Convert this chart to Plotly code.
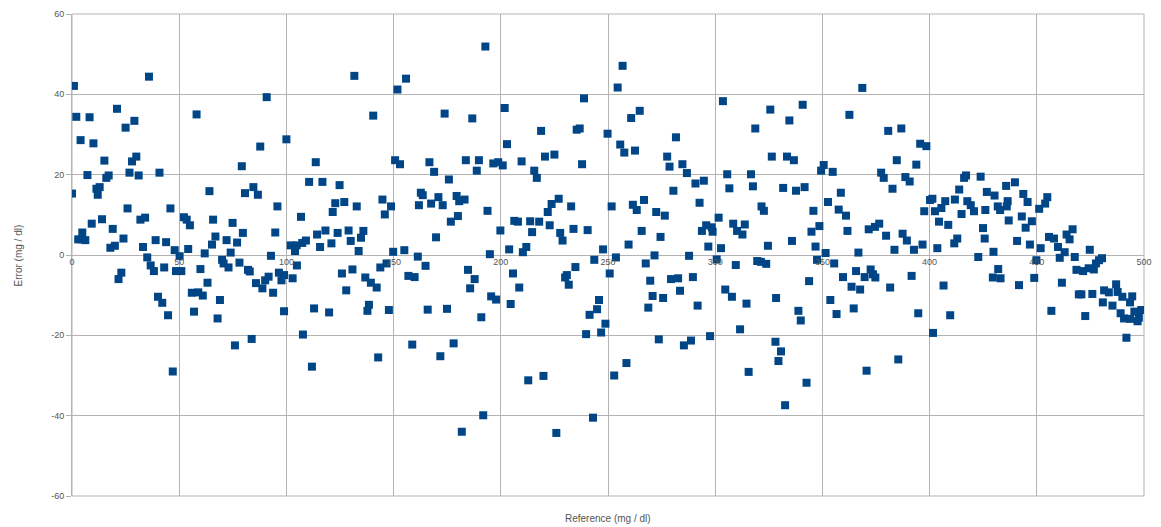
import plotly.graph_objects as go

# Reference values (mg/dl) and errors (mg/dl), grouped by x-band
ref_a = [0.9,35.9,2.0,8.2,21.0,29.1,25.0,4.0,10.0,15.1,30.0,28.0,7.2,17.1,16.0,26.8,31.1,40.8,0.0,11.4,12.9,12.0,25.9,45.9,64.1,58.1,9.2,14.0,19.0,31.9,34.1,52.2,53.5,55.0,65.8,74.9,4.8,2.9,4.5,6.2,24.0,17.9,20.0,33.1,39.0,43.9,47.9,50.2,54.2,61.9,65.3,66.9,72.1,77.0,74.0,35.1,36.7,38.2,43.0,48.5,51.0,59.9,70.0,70.7,73.0,23.0,21.7,63.2,55.9,58.9,61.0,40.1,42.1,69.0,44.8,56.9,67.9,76.0,47.0]
err_a = [42.1,44.4,34.4,34.3,36.4,33.4,31.7,28.6,27.8,23.5,24.5,23.3,19.9,19.8,19.2,20.5,19.8,20.5,15.3,16.5,16.9,15.0,11.6,11.6,15.9,35.0,7.8,8.9,6.5,8.8,9.3,9.4,8.8,7.4,8.8,8.0,5.6,3.9,3.9,3.7,4.1,1.8,2.3,2.0,3.7,3.2,1.2,-0.3,1.5,0.4,2.6,4.6,3.7,3.1,0.6,-0.6,-2.6,-4.0,-3.1,-4.0,-4.0,-3.5,-1.2,-2.1,-3.1,-4.4,-6.0,-6.9,-9.4,-9.3,-10.1,-10.4,-11.9,-11.2,-15.0,-14.1,-15.8,-22.5,-29.0]

ref_b = [90.8,131.7,151.8,155.8,140.5,100.0,87.8,79.2,113.7,150.7,153.0,110.6,116.8,124.8,84.6,80.7,86.7,95.8,122.8,127.0,132.8,121.6,144.8,148.8,145.9,106.8,79.7,94.8,114.3,118.2,123.9,129.0,135.9,134.8,130.0,121.0,115.7,109.1,107.4,102.0,104.8,104.0,133.7,149.8,155.0,92.8,78.1,82.1,82.9,104.9,96.5,98.9,97.7,102.9,91.7,90.1,85.8,88.8,93.8,125.9,130.8,136.8,139.4,142.1,143.8,146.7,156.9,159.8,127.9,98.9,112.9,119.9,138.5,137.8,147.8,83.8,107.7,158.7,111.9,142.8]
err_b = [39.3,44.6,41.2,43.9,34.7,28.8,27.0,22.1,23.1,23.6,22.6,18.2,18.2,17.4,16.9,15.4,15.0,12.1,12.9,13.2,12.1,10.7,13.8,12.1,10.1,9.5,5.5,5.6,5.1,6.1,5.5,6.1,6.0,4.3,3.5,2.9,2.0,3.6,3.0,2.4,2.4,1.0,1.0,0.8,1.2,-0.2,-1.9,-3.7,-4.1,-2.6,-4.4,-5.0,-6.3,-5.8,-5.4,-6.3,-7.0,-8.3,-9.4,-4.6,-3.6,-5.6,-6.9,-8.1,-3.1,-2.1,-5.2,-5.5,-8.8,-14.0,-13.3,-14.3,-12.4,-13.9,-13.7,-20.9,-19.8,-22.3,-27.8,-25.5]

ref_c = [192.8,238.8,201.8,173.8,186.7,218.8,235.4,236.8,202.9,166.7,168.9,183.7,189.8,188.8,196.5,198.8,200.9,209.7,220.6,225.0,237.9,215.6,216.8,175.8,162.7,163.6,161.8,167.5,170.9,172.9,179.4,180.6,183.1,193.8,176.7,180.0,169.8,206.3,208.0,213.7,217.9,214.6,199.8,221.9,223.7,227.0,232.8,222.8,227.7,228.8,233.9,240.5,203.9,210.3,211.9,194.9,161.3,164.9,184.7,187.8,185.7,205.7,208.6,195.5,197.8,204.6,190.9,165.9,174.9,230.0,230.8,231.7,234.8,243.6,241.4,239.8,178.0,171.8,212.8,219.9,191.8,181.8,225.9,243.0]
err_c = [51.9,39.0,36.6,35.2,34.0,30.9,31.2,31.5,27.6,23.1,20.7,23.6,23.6,21.0,22.8,23.1,22.3,23.3,24.5,25.0,22.6,21.0,19.2,18.8,15.5,14.9,12.4,12.8,14.4,12.4,14.7,13.4,13.8,11.0,8.3,9.7,4.4,8.5,8.3,8.4,8.3,5.7,6.1,10.7,12.7,14.0,12.1,7.4,5.5,3.6,6.5,6.2,1.4,0.7,2.0,0.2,-0.4,-2.7,-3.7,-6.0,-8.3,-4.6,-8.1,-10.3,-11.1,-12.2,-15.5,-13.6,-13.4,-5.6,-5.0,-7.4,-3.0,-1.2,-14.9,-19.7,-22.0,-25.2,-31.2,-30.1,-39.9,-44.0,-44.3,-40.5]

ref_d = [256.8,254.5,303.6,264.8,260.8,325.7,318.7,249.8,255.7,257.6,262.6,281.7,277.6,278.7,284.7,286.8,290.8,294.7,280.5,305.6,316.7,306.6,317.6,326.4,251.7,261.6,263.4,266.8,272.5,276.5,292.7,301.6,295.8,298.4,293.8,298.8,308.4,313.8,310.2,312.7,321.6,322.7,265.7,274.5,259.6,296.8,302.7,324.6,247.7,253.7,271.7,267.6,287.8,300.7,309.6,319.6,321.3,323.8,250.8,269.7,279.4,282.7,289.6,283.6,304.7,307.8,270.8,275.7,268.8,291.8,314.6,245.8,244.9,248.8,246.8,273.7,285.4,288.7,297.6,311.6,258.6,252.9,315.6]
err_d = [47.1,41.7,38.3,35.9,34.1,36.2,31.5,30.2,27.5,25.5,26.0,29.3,24.5,22.0,22.6,20.4,17.8,18.5,16.0,20.1,20.1,16.6,17.1,24.5,12.1,12.5,11.2,13.7,10.7,9.8,13.0,9.3,7.4,6.9,6.0,5.8,7.8,7.6,6.0,5.1,12.1,11.0,6.0,4.5,2.6,2.1,1.7,2.3,1.4,-0.6,-0.1,-2.1,-0.2,-1.1,-2.5,-1.5,-1.7,-2.2,-4.6,-6.4,-6.0,-5.8,-5.5,-8.9,-8.6,-10.4,-10.2,-10.7,-13.1,-12.6,-12.1,-11.2,-13.5,-17.1,-19.3,-21.0,-22.5,-21.3,-20.2,-18.5,-26.9,-30.0,-29.1]

ref_e = [368.6,340.8,362.6,334.6,380.7,386.8,395.6,398.5,333.5,336.7,384.7,393.8,350.6,349.4,354.8,377.4,378.6,388.7,390.7,382.7,331.7,337.7,341.7,358.6,352.6,357.6,361.0,345.8,400.2,401.3,397.5,402.5,407.3,405.5,404.4,408.7,348.6,344.9,361.7,371.6,374.5,376.5,379.7,387.4,389.4,396.7,335.8,346.8,351.5,366.8,383.6,392.7,403.6,347.5,355.5,365.7,359.6,369.7,372.5,373.6,374.7,391.6,343.8,363.6,367.6,381.6,406.5,328.4,353.7,356.6,364.6,338.8,339.9,394.7,409.6,401.6,328.1,330.7,329.5,385.4,370.6,342.6,332.6]
err_e = [41.6,37.4,34.9,33.5,30.9,31.5,27.7,27.1,24.5,23.6,23.6,22.5,22.4,21.0,20.7,20.5,19.2,19.4,18.3,16.5,16.7,16.0,16.9,15.5,13.2,11.3,9.8,11.0,13.7,14.0,10.9,10.9,13.4,11.7,8.3,7.5,7.2,5.8,6.0,6.4,7.0,7.8,4.8,5.3,3.6,2.6,3.5,2.1,0.5,0.6,1.3,1.3,1.7,-1.2,-2.1,-4.0,-5.5,-5.5,-3.6,-4.8,-5.6,-5.2,-6.5,-7.9,-8.6,-8.1,-7.6,-10.7,-11.2,-14.7,-13.3,-13.9,-16.3,-14.5,-15.0,-19.4,-21.6,-24.0,-26.4,-26.0,-28.8,-31.8,-37.4]

ref_f = [416.1,417.0,423.8,435.7,439.8,413.8,426.7,430.3,443.7,411.8,417.6,419.2,420.7,414.9,426.0,431.8,432.9,436.4,436.0,445.7,454.9,453.9,451.1,443.0,436.9,447.7,444.8,424.9,425.7,412.9,411.5,440.8,446.8,429.8,422.7,451.8,455.7,458.0,459.9,460.7,463.0,463.9,465.3,466.7,467.7,474.7,449.8,468.5,471.6,474.2,476.6,477.6,479.0,480.4,432.0,429.5,433.1,448.8,441.7,461.7,469.6,470.8,475.9,481.4,483.6,487.0,487.7,489.9,494.5,493.5,480.8,485.3,489.1,495.5,498.7,490.7,493.5,497.0,497.6,491.8,456.8,472.6]
err_f = [19.2,19.8,19.5,17.2,18.1,16.3,15.7,14.8,15.2,13.8,13.4,12.4,10.9,10.2,11.2,12.1,11.2,13.4,12.1,13.2,14.4,12.8,11.5,9.6,8.6,8.4,6.8,6.7,4.1,4.1,2.9,3.5,2.6,0.8,-0.5,1.7,4.5,4.1,2.0,-0.7,0.7,5.1,3.9,6.4,-0.5,1.3,-1.3,-3.7,-4.0,-3.3,-3.6,-2.1,-1.3,-0.8,-3.5,-5.6,-5.8,-5.7,-7.5,-6.9,-9.8,-9.8,-9.7,-8.8,-9.3,-7.3,-9.2,-10.4,-10.3,-11.8,-11.8,-12.6,-14.5,-14.1,-13.7,-15.8,-15.9,-16.5,-15.6,-20.6,-13.9,-15.2]

x_ticks = [0, 50, 100, 150, 200, 250, 300, 350, 400, 450, 500]
y_ticks = [-60, -40, -20, 0, 20, 40, 60]

reference = ref_a + ref_b + ref_c + ref_d + ref_e + ref_f
error = err_a + err_b + err_c + err_d + err_e + err_f
assert len(reference) == len(error)

GRID = "#b3b3b3"
TXT = "#555555"
FONT = "Liberation Sans"

fig = go.Figure(go.Scatter(
    x=reference, y=error, mode="markers",
    marker=dict(symbol="square", size=8, color="#004586", line=dict(width=0)),
    hoverinfo="x+y",
))

fig.update_layout(
    width=1161, height=527,
    margin=dict(l=72, r=9, t=12, b=31),
    paper_bgcolor="white", plot_bgcolor="white",
    showlegend=False,
    font=dict(family=FONT, size=9, color=TXT),
    xaxis=dict(
        range=[0, 500], tickvals=x_ticks, ticktext=[str(v) for v in x_ticks],
        showgrid=True, gridcolor=GRID, gridwidth=1,
        zeroline=False, showline=False, ticks="",
        anchor="free", position=0.5,
        tickfont=dict(family=FONT, size=9, color=TXT),
    ),
    yaxis=dict(
        range=[-60, 60], tickvals=y_ticks, ticktext=[str(v) for v in y_ticks],
        showgrid=True, gridcolor=GRID, gridwidth=1,
        zeroline=False, showline=True, linecolor=GRID, linewidth=1,
        ticks="outside", ticklen=5, tickcolor=GRID,
        tickfont=dict(family=FONT, size=9, color=TXT),
    ),
    shapes=[dict(type="rect", xref="paper", yref="paper", x0=0, y0=0, x1=1, y1=1,
                 line=dict(color=GRID, width=1), layer="below")],
    annotations=[
        dict(text="Reference (mg / dl)", xref="paper", yref="paper", x=0.5, y=-0.047,
             xanchor="center", yanchor="middle", showarrow=False,
             font=dict(family=FONT, size=10, color=TXT)),
        dict(text="Error (mg / dl)", xref="paper", yref="paper", x=-0.05, y=0.5,
             xanchor="center", yanchor="middle", textangle=-90, showarrow=False,
             font=dict(family=FONT, size=10, color=TXT)),
    ],
)

fig.write_html(
    "out.html",
    config={"displayModeBar": False},
    post_script="document.body.style.margin='0';document.body.style.overflow='hidden';",
)
